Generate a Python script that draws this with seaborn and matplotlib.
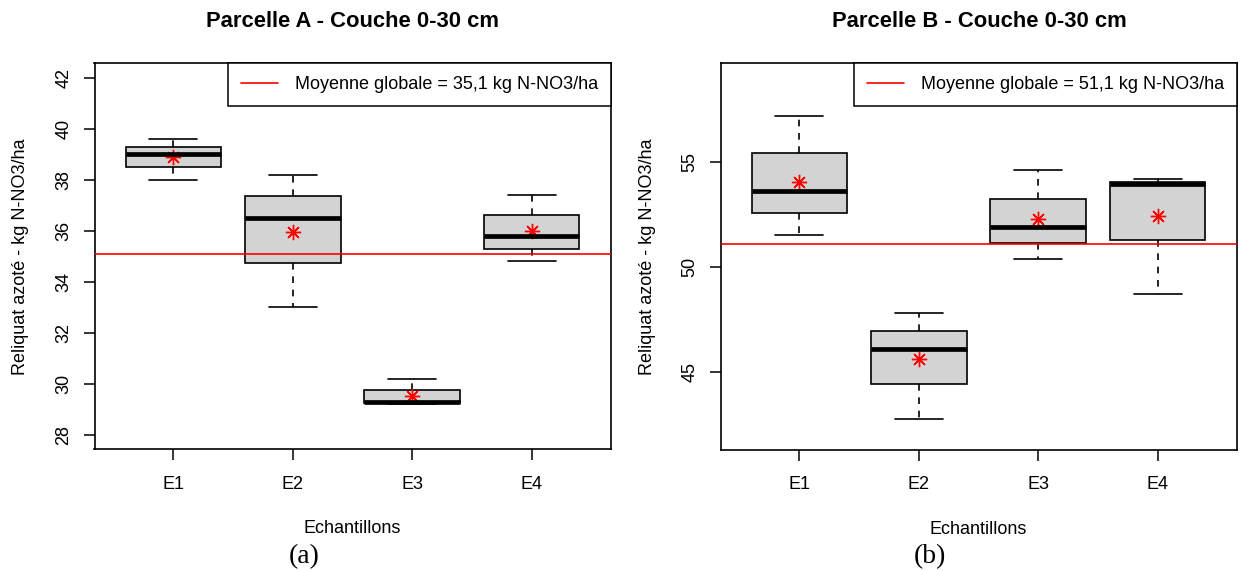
import numpy as np
import pandas as pd
import matplotlib
matplotlib.use("Agg")
import matplotlib.pyplot as plt
import seaborn as sns

# Reliquats azotés (kg N-NO3/ha), 5 prélèvements par échantillon
samples = ["E1", "E2", "E3", "E4"]

parcelle_a = {
    "E1": [38.0, 38.5, 39.0, 39.3, 39.6],
    "E2": [33.0, 34.75, 36.5, 37.35, 38.2],
    "E3": [29.2, 29.25, 29.3, 29.75, 30.2],
    "E4": [34.8, 35.3, 35.8, 36.6, 37.4],
}
parcelle_b = {
    "E1": [51.5, 52.55, 53.6, 55.4, 57.2],
    "E2": [42.8, 44.45, 46.1, 46.95, 47.8],
    "E3": [50.4, 51.15, 51.9, 53.25, 54.6],
    "E4": [48.7, 51.3, 53.95, 54.05, 54.2],
}

titles = ["Parcelle A - Couche 0-30 cm", "Parcelle B - Couche 0-30 cm"]
panel_tags = ["(a)", "(b)"]
y_ranges = [(28, 42), (42, 59)]
y_ticks = [np.arange(28, 43, 2), [45, 50, 55]]

sns.set_style("white")
plt.rcParams["font.family"] = ["Liberation Sans", "DejaVu Sans"]
plt.rcParams["text.color"] = "black"
plt.rcParams["axes.labelcolor"] = "black"

W, H = 1242, 571
fig = plt.figure(figsize=(W / 100, H / 100), dpi=100)

axes_px = [(94.5, 63.3, 516, 386), (720.5, 63.3, 516, 386.5)]
title_x = [352, 979]
tag_x = [304, 930]

for i, data in enumerate([parcelle_a, parcelle_b]):
    left, top, width, height = axes_px[i]
    ax = fig.add_axes([left / W, (H - top - height) / H, width / W, height / H])

    df = pd.DataFrame(
        [(s, v) for s in samples for v in data[s]], columns=["Echantillon", "Reliquat"]
    )
    global_mean = df["Reliquat"].mean()

    sns.boxplot(
        data=df, x="Echantillon", y="Reliquat", order=samples, ax=ax,
        width=0.8, color="#D3D3D3", saturation=1, linecolor="black", linewidth=1.2,
        medianprops=dict(color="black", linewidth=3.4),
        whiskerprops=dict(linestyle=(0, (4, 4))),
        capprops=dict(linestyle="-"),
    )
    sns.pointplot(
        data=df, x="Echantillon", y="Reliquat", order=samples, ax=ax,
        estimator="mean", errorbar=None, color="red", linestyle="none",
        marker=(8, 2, 0), markersize=11, markeredgewidth=1.0,
    )
    label = "Moyenne globale = " + f"{global_mean:.1f}".replace(".", ",") + " kg N-NO3/ha"
    ax.axhline(global_mean, color="red", linewidth=1.2, zorder=3, label=label)

    lo, hi = y_ranges[i]
    pad = 0.04 * (hi - lo)
    ax.set_ylim(lo - pad, hi + pad)
    ax.set_xlim(-0.66, 3.66)
    ax.set_yticks(y_ticks[i])
    ax.tick_params(axis="both", direction="out", length=8, width=1.1,
                   colors="black", labelsize=13, bottom=True, left=True)
    ax.tick_params(axis="x", pad=11)
    ax.tick_params(axis="y", pad=8)
    for lab in ax.get_yticklabels():
        lab.set_rotation(90)
        lab.set_va("center")
    for sp in ax.spines.values():
        sp.set_color("black")
        sp.set_linewidth(1.2)

    ax.set_xlabel("Echantillons", fontsize=13)
    ax.set_ylabel("Reliquat azoté - kg N-NO3/ha", fontsize=13)
    ax.xaxis.set_label_coords(0.5, -(520 - 449.3) / height)
    ax.yaxis.set_label_coords(-(95 - 30) / width, 0.5)

    leg = ax.legend(loc="upper right", borderaxespad=0, fontsize=13,
                    handlelength=2.1, handletextpad=0.9, borderpad=0.7,
                    fancybox=False, framealpha=1, edgecolor="black")
    leg.get_frame().set_linewidth(1.1)

    fig.text(title_x[i] / W, (H - 26.7) / H, titles[i], ha="center", va="baseline",
             fontsize=15.8, fontweight="bold")
    fig.text(tag_x[i] / W, (H - 557) / H, panel_tags[i], ha="center", va="center",
             fontsize=20, family=["Liberation Serif", "DejaVu Serif"])

fig.savefig("out.png", dpi=100)
